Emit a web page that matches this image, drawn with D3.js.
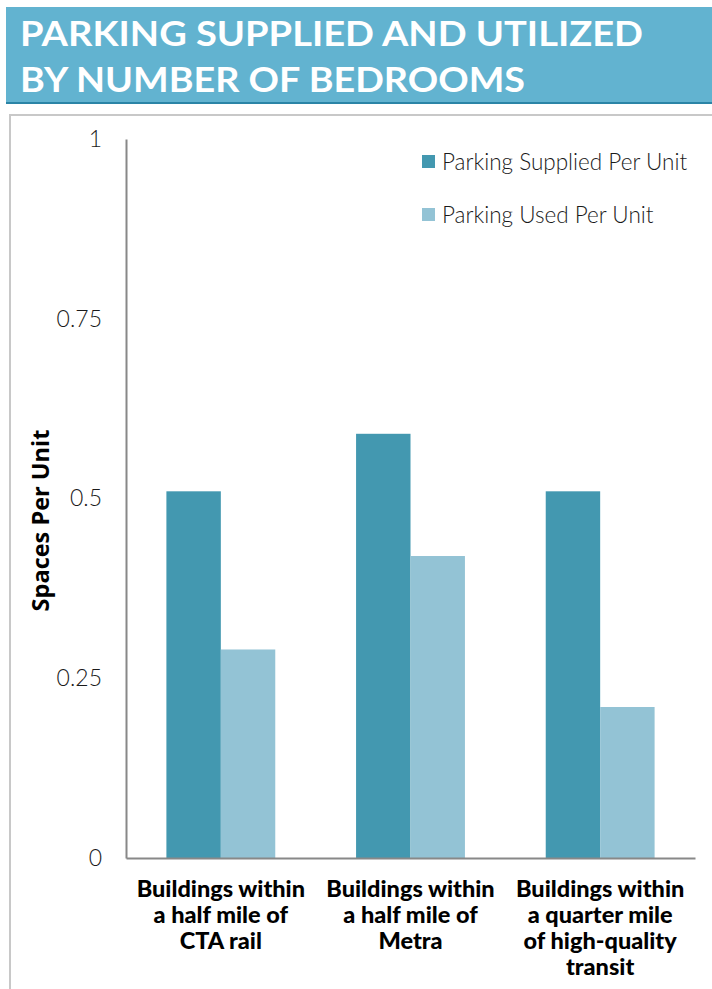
<!DOCTYPE html>
<html lang="en">
<head>
    <meta charset="UTF-8">
    <title>Parking Supplied and Utilized</title>
    <script src="https://d3js.org/d3.v7.min.js"></script>
    <style>
        body { margin: 0; background: #fff; }
        svg { display: block; }
        .tick-label { font-family: Lato, sans-serif; font-weight: 300; font-size: 23px; fill: #1a1a1a; }
        .legend-label { font-family: Lato, sans-serif; font-weight: 300; font-size: 22.5px; fill: #1a1a1a; }
        .cat-label { font-family: Lato, sans-serif; font-weight: 900; font-size: 23.5px; fill: #000; }
        .axis-title { font-family: "Open Sans", sans-serif; font-weight: 700; font-size: 23.5px; fill: #000; }
        .title { font-family: Lato, sans-serif; font-weight: 700; font-size: 35px; fill: #fff; }
    </style>
</head>
<body>
<script>
    // chart data
    const categories = ["cta", "metra", "transit"];
    const categoryLabels = [
        ["Buildings within", "a half mile of", "CTA rail"],
        ["Buildings within", "a half mile of", "Metra"],
        ["Buildings within", "a quarter mile", "of high-quality", "transit"]
    ];
    const seriesNames = ["Parking Supplied Per Unit", "Parking Used Per Unit"];
    const supplied = [0.51, 0.59, 0.51];
    const used = [0.29, 0.42, 0.21];
    const yTicks = [0, 0.25, 0.5, 0.75, 1];
    const yTickLabels = ["0", "0.25", "0.5", "0.75", "1"];

    const width = 712, height = 989;
    const colors = ["#4398b0", "#93c3d5"];

    const svg = d3.select("body").append("svg")
        .attr("width", width)
        .attr("height", height);

    // title banner
    svg.append("rect")
        .attr("x", 6).attr("y", 7)
        .attr("width", width - 6).attr("height", 96)
        .attr("fill", "#62b3d0");
    svg.append("line")
        .attr("x1", 6).attr("x2", width)
        .attr("y1", 103).attr("y2", 103)
        .attr("stroke", "#2b84a6").attr("stroke-width", 2);
    svg.append("text").attr("class", "title")
        .attr("x", 20).attr("y", 46)
        .attr("textLength", 623).attr("lengthAdjust", "spacingAndGlyphs")
        .text("PARKING SUPPLIED AND UTILIZED");
    svg.append("text").attr("class", "title")
        .attr("x", 20).attr("y", 92)
        .attr("textLength", 505).attr("lengthAdjust", "spacingAndGlyphs")
        .text("BY NUMBER OF BEDROOMS");

    // chart frame
    svg.append("path")
        .attr("d", `M${width},115 H10 V${height}`)
        .attr("fill", "none")
        .attr("stroke", "#c8c8c8")
        .attr("stroke-width", 2);

    const margin = { left: 126, right: 695, top: 139, bottom: 858 };

    const x = d3.scaleBand()
        .domain(categories)
        .range([margin.left, margin.right])
        .padding(0);
    const y = d3.scaleLinear()
        .domain([0, 1])
        .range([margin.bottom, margin.top]);
    const inner = d3.scaleBand()
        .domain([0, 1])
        .range([x.bandwidth() * 0.213, x.bandwidth() * 0.787]);

    // bars
    const seriesData = [supplied, used];
    seriesData.forEach((vals, s) => {
        svg.append("g")
            .selectAll("rect")
            .data(categories)
            .join("rect")
            .attr("x", d => x(d) + inner(s))
            .attr("width", inner.bandwidth())
            .attr("y", (d, i) => y(vals[i]))
            .attr("height", (d, i) => y(0) - y(vals[i]))
            .attr("fill", colors[s]);
    });

    // y axis
    const yAxis = svg.append("g")
        .attr("transform", `translate(${margin.left},0)`)
        .call(d3.axisLeft(y).tickValues(yTicks).tickSize(0).tickPadding(24)
            .tickFormat((d, i) => yTickLabels[i]));
    yAxis.select(".domain").attr("stroke", "#888").attr("stroke-width", 2);
    yAxis.selectAll("text").attr("class", "tick-label").attr("fill", null)
        .attr("font-family", null).attr("font-size", null);

    // x axis
    const xAxis = svg.append("g")
        .attr("transform", `translate(0,${margin.bottom})`)
        .call(d3.axisBottom(x).tickSize(0).tickFormat(""));
    xAxis.select(".domain").attr("stroke", "#888").attr("stroke-width", 2);

    // category labels
    categories.forEach((c, i) => {
        const t = svg.append("text").attr("class", "cat-label")
            .attr("text-anchor", "middle");
        categoryLabels[i].forEach((line, j) => {
            t.append("tspan")
                .attr("x", x(c) + x.bandwidth() / 2)
                .attr("y", 897 + j * 26)
                .text(line);
        });
    });

    // y axis title
    svg.append("text").attr("class", "axis-title")
        .attr("transform", `translate(49,${y(0.5) + 22}) rotate(-90)`)
        .attr("text-anchor", "middle")
        .text("Spaces Per Unit");

    // legend
    const legend = svg.append("g").attr("transform", "translate(422,155)");
    seriesNames.forEach((name, i) => {
        legend.append("rect")
            .attr("x", 0).attr("y", i * 53)
            .attr("width", 13).attr("height", 13)
            .attr("fill", colors[i]);
        legend.append("text").attr("class", "legend-label")
            .attr("x", 20).attr("y", i * 53 + 15)
            .text(name);
    });
</script>
</body>
</html>
